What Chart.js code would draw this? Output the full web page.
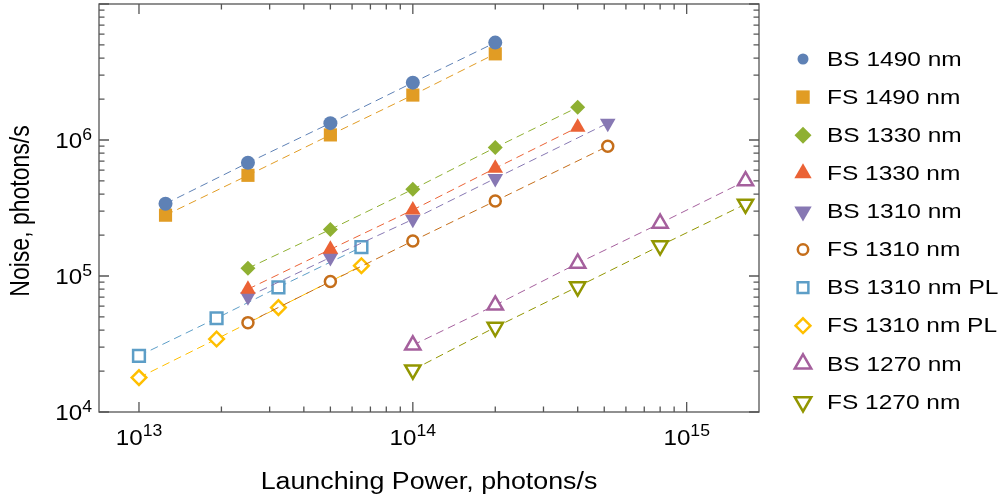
<!DOCTYPE html>
<html>
<head>
<meta charset="utf-8">
<script src="https://cdn.jsdelivr.net/npm/chart.js@4/dist/chart.umd.min.js"></script>
<style>
  html, body { margin: 0; padding: 0; background: #fff; }
</style>
</head>
<body>
<canvas id="myChart" width="1002" height="504"></canvas>
<script>
// launching power (photons/s) for each group of measurements
const power1490 = [1.25e13, 2.5e13, 5e13, 1e14, 2e14];
const power1330 = [2.5e13, 5e13, 1e14, 2e14, 4e14];
const power1310 = [2.5e13, 5e13, 1e14, 2e14, 5.15e14];
const powerPL = [1e13, 1.92e13, 3.23e13, 6.49e13];
const power1270 = [1e14, 2e14, 4e14, 8e14, 1.64e15];

// noise (photons/s)
const bs1490 = [3.4e5, 6.8e5, 1.33e6, 2.64e6, 5.2e6];
const fs1490 = [2.8e5, 5.5e5, 1.09e6, 2.14e6, 4.3e6];
const bs1330 = [1.14e5, 2.2e5, 4.34e5, 8.8e5, 1.74e6];
const fs1330 = [8.0e4, 1.57e5, 3.06e5, 6.2e5, 1.24e6];
const bs1310 = [7.05e4, 1.37e5, 2.61e5, 5.22e5, 1.33e6];
const fs1310 = [4.54e4, 9.1e4, 1.81e5, 3.56e5, 9.0e5];
const bs1310PL = [2.59e4, 4.89e4, 8.26e4, 1.63e5];
const fs1310PL = [1.79e4, 3.44e4, 5.86e4, 1.19e5];
const bs1270 = [3.1e4, 6.1e4, 1.24e5, 2.44e5, 5.0e5];
const fs1270 = [2.04e4, 4.2e4, 8.34e4, 1.67e5, 3.38e5];

const xDecades = [13, 14, 15];
const yDecades = [4, 5, 6];
const xTitle = 'Launching Power, photons/s';
const yTitle = 'Noise, photons/s';

const FONT = '"Liberation Sans", Arial, sans-serif';
const SX = 1.165; // text in the original is a little wider than Arial

function pts(xs, ys) {
  return xs.map((x, i) => ({ x: x, y: ys[i] }));
}

function series(label, xs, ys, color, style, radius, open, rotation, legendRadius) {
  return {
    label: label,
    data: pts(xs, ys),
    showLine: true,
    borderColor: color,
    borderWidth: 1,
    borderDash: [8, 5],
    pointStyle: style,
    pointRotation: rotation || 0,
    pointRadius: radius,
    pointHoverRadius: radius,
    pointBackgroundColor: open ? '#fff' : color,
    pointBorderColor: color,
    pointBorderWidth: open ? 2.5 : 0,
    backgroundColor: color,
    legendRadius: legendRadius
  };
}

const datasets = [
  series('BS 1490 nm', power1490, bs1490, '#5E81B5', 'circle', 7, false, 0, 5.5),
  series('FS 1490 nm', power1490, fs1490, '#E19C24', 'rect', 9.3, false, 0, 9.5),
  series('BS 1330 nm', power1330, bs1330, '#8FB032', 'rectRot', 7.5, false, 0, 8.5),
  series('FS 1330 nm', power1330, fs1330, '#EB6235', 'triangle', 9, false, 0, 10),
  series('BS 1310 nm', power1310, bs1310, '#8778B3', 'triangle', 9, false, 180, 10),
  series('FS 1310 nm', power1310, fs1310, '#C56E1A', 'circle', 5.5, true, 0, 5.2),
  series('BS 1310 nm PL', powerPL, bs1310PL, '#5D9EC7', 'rect', 8.3, true, 0, 7.6),
  series('FS 1310 nm PL', powerPL, fs1310PL, '#FFBF00', 'rectRot', 7.3, true, 0, 7.4),
  series('BS 1270 nm', power1270, bs1270, '#A5609D', 'triangle', 8.8, true, 0, 9.5),
  series('FS 1270 nm', power1270, fs1270, '#929600', 'triangle', 8.8, true, 180, 9.5)
];

function wideText(ctx, text, x, y, size, align, sx, rot) {
  ctx.save();
  ctx.font = size + 'px ' + FONT;
  ctx.translate(x, y);
  ctx.scale(sx, 1);
  if (rot) ctx.rotate(rot);
  ctx.textAlign = align;
  ctx.fillText(text, 0, 0);
  ctx.restore();
}

function textWidth(ctx, text, size, sx) {
  ctx.save();
  ctx.font = size + 'px ' + FONT;
  const w = ctx.measureText(text).width * sx;
  ctx.restore();
  return w;
}

// frame, inward ticks, 10^n labels and axis titles
const framePlugin = {
  id: 'frame',
  afterDatasetsDraw(chart) {
    const ctx = chart.ctx;
    const a = chart.chartArea;
    const xs = chart.scales.x;
    const ys = chart.scales.y;
    ctx.save();
    ctx.strokeStyle = '#555';
    ctx.lineWidth = 1.3;
    ctx.strokeRect(a.left, a.top, a.right - a.left, a.bottom - a.top);

    ctx.beginPath();
    xDecades.forEach(d => {
      for (let m = 1; m <= 9; m++) {
        if (d === 15 && m > 1) break;
        const px = xs.getPixelForValue(m * Math.pow(10, d));
        const len = m === 1 ? 10 : 5.5;
        ctx.moveTo(px, a.bottom); ctx.lineTo(px, a.bottom - len);
        ctx.moveTo(px, a.top); ctx.lineTo(px, a.top + len);
      }
    });
    [4, 5, 6, 7].forEach(d => {
      for (let m = 1; m <= 9; m++) {
        if (d === 7 && m > 1) break;
        const py = ys.getPixelForValue(m * Math.pow(10, d));
        const len = m === 1 ? 10 : 5.5;
        ctx.moveTo(a.left, py); ctx.lineTo(a.left + len, py);
        ctx.moveTo(a.right, py); ctx.lineTo(a.right - len, py);
      }
    });
    ctx.stroke();

    ctx.fillStyle = '#000';
    ctx.textBaseline = 'alphabetic';
    const tsx = 1.1;
    xDecades.forEach(d => {
      const px = xs.getPixelForValue(Math.pow(10, d));
      const wb = textWidth(ctx, '10', 22, tsx);
      const we = textWidth(ctx, String(d), 16, tsx);
      const x0 = px - (wb + we) / 2;
      wideText(ctx, '10', x0, 445, 22, 'left', tsx);
      wideText(ctx, String(d), x0 + wb, 436, 16, 'left', tsx);
    });
    yDecades.forEach(d => {
      const py = ys.getPixelForValue(Math.pow(10, d));
      const we = textWidth(ctx, String(d), 16, tsx);
      wideText(ctx, String(d), 92, py, 16, 'right', tsx);
      wideText(ctx, '10', 92 - we, py + 8, 22, 'right', tsx);
    });

    ctx.textBaseline = 'middle';
    wideText(ctx, xTitle, (a.left + a.right) / 2, 483, 23, 'center', SX);
    wideText(ctx, yTitle, 22, 211, 23, 'center', SX, -Math.PI / 2);
    ctx.restore();
  }
};

const legendTop = 59;
const legendStep = 38.1;
const legendPlugin = {
  id: 'sideLegend',
  afterDraw(chart) {
    const ctx = chart.ctx;
    chart.data.datasets.forEach((ds, i) => {
      const y = legendTop + i * legendStep;
      ctx.save();
      ctx.fillStyle = ds.pointBackgroundColor;
      ctx.strokeStyle = ds.pointBorderColor;
      ctx.lineWidth = ds.pointBorderWidth;
      Chart.helpers.drawPoint(ctx, {
        pointStyle: ds.pointStyle,
        rotation: ds.pointRotation,
        radius: ds.legendRadius,
        borderWidth: ds.pointBorderWidth
      }, 803, y);
      ctx.fillStyle = '#000';
      ctx.textBaseline = 'middle';
      wideText(ctx, ds.label, 827, y + 1, 21, 'left', SX);
      ctx.restore();
    });
  }
};

const config = {
  type: 'scatter',
  data: { datasets: datasets },
  options: {
    responsive: false,
    animation: false,
    layout: { autoPadding: false, padding: { left: 0, right: 243, top: 4, bottom: 0 } },
    scales: {
      x: {
        type: 'logarithmic',
        min: 7.145e12,
        max: 1.837e15,
        grid: { display: false },
        border: { display: false },
        ticks: { display: false },
        afterFit: (scale) => { scale.height = 92; }
      },
      y: {
        type: 'logarithmic',
        min: 1e4,
        max: 1e7,
        grid: { display: false },
        border: { display: false },
        ticks: { display: false },
        afterFit: (scale) => { scale.width = 99; }
      }
    },
    plugins: {
      legend: { display: false },
      tooltip: { enabled: false }
    }
  },
  plugins: [framePlugin, legendPlugin]
};

const myChart = new Chart(document.getElementById('myChart'), config);
</script>
</body>
</html>
